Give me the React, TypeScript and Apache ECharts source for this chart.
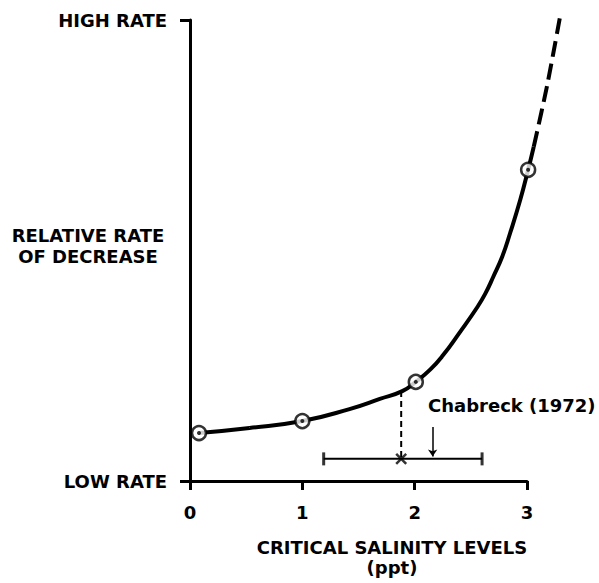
import React, { useEffect, useRef } from "react";
import * as echarts from "echarts";

// Salinity (ppt) vs relative rate of decrease (0 = low rate, 10 = high rate)
const xTicks = [0, 1, 2, 3];
const yTickLabels: Record<number, string> = { 0: "LOW RATE", 10: "HIGH RATE" };

const curveX = [0.08, 0.53, 1.0, 1.42, 1.69, 1.89, 2.01, 2.14, 2.25, 2.4, 2.56, 2.63, 2.7, 2.78, 2.85, 2.94, 3.01, 3.06];
const curveY = [1.04, 1.15, 1.3, 1.56, 1.78, 1.95, 2.15, 2.42, 2.72, 3.22, 3.78, 4.07, 4.43, 4.87, 5.38, 6.1, 6.75, 7.25];

const dashX = [3.06, 3.18, 3.3];
const dashY = [7.25, 8.59, 10.15];

const obsX = [0.08, 1.0, 2.01, 3.01];
const obsY = [1.04, 1.3, 2.15, 6.75];

// Chabreck (1972) range
const rangeLow = 1.19;
const rangeHigh = 2.6;
const rangeLevel = 0.48;
const critical = 1.88;
const criticalCurveY = 1.95;
const chabreckX = 2.16;
const arrowTop = 1.17;
const arrowBottom = 0.53;

const FONT = "DejaVu Sans";

// main axes frame (px)
const G_LEFT = 190;
const G_TOP = 20;
const G_W = 337;
const G_H = 461;
const X_MAX = 3;
const Y_MAX = 10;
// extended (hidden) frame with identical scale so the curve can run past the axes
const X_MAX2 = 3.4;
const Y_MAX2 = 10.4;
const W2 = (G_W * X_MAX2) / X_MAX;
const H2 = (G_H * Y_MAX2) / Y_MAX;
const TOP2 = G_TOP + G_H - H2;

export default function App() {
  const ref = useRef<HTMLDivElement>(null);
  useEffect(() => {
    if (!ref.current) return;
    const chart = echarts.init(ref.current, undefined, { renderer: "svg" });
    const zip = (xs: number[], ys: number[]) => xs.map((x, i) => [x, ys[i]]);
    const onG2 = { xAxisIndex: 1, yAxisIndex: 1 };
    chart.setOption({
      animation: false,
      backgroundColor: "#fff",
      grid: [
        { left: G_LEFT, top: G_TOP, width: G_W, height: G_H },
        { left: G_LEFT, top: TOP2, width: W2, height: H2 },
      ],
      xAxis: [
        {
          type: "value",
          gridIndex: 0,
          min: 0,
          max: X_MAX,
          interval: 1,
          splitLine: { show: false },
          axisLine: { show: true, lineStyle: { color: "#000", width: 3 } },
          axisTick: { show: true, length: 9, lineStyle: { color: "#000", width: 3 } },
          axisLabel: {
            margin: 22,
            color: "#000",
            fontFamily: FONT,
            fontWeight: "bold",
            fontSize: 18,
            formatter: (v: number) => (xTicks.includes(v) ? String(v) : ""),
          },
        },
        { type: "value", gridIndex: 1, min: 0, max: X_MAX2, show: false },
      ],
      yAxis: [
        {
          type: "value",
          gridIndex: 0,
          min: 0,
          max: Y_MAX,
          interval: 10,
          splitLine: { show: false },
          axisLine: { show: true, lineStyle: { color: "#000", width: 3 } },
          axisTick: { show: true, length: 10, lineStyle: { color: "#000", width: 3 } },
          axisLabel: {
            margin: 23,
            color: "#000",
            fontFamily: FONT,
            fontWeight: "bold",
            fontSize: 18,
            formatter: (v: number) => yTickLabels[v] ?? "",
          },
        },
        { type: "value", gridIndex: 1, min: 0, max: Y_MAX2, show: false },
      ],
      graphic: [
        {
          type: "text",
          x: 88,
          y: 246,
          style: {
            text: "RELATIVE RATE\nOF DECREASE",
            font: `bold 18px '${FONT}'`,
            lineHeight: 21,
            fill: "#000",
            align: "center",
            verticalAlign: "middle",
          },
        },
        {
          type: "text",
          x: 392,
          y: 557,
          style: {
            text: "CRITICAL SALINITY LEVELS\n(ppt)",
            font: `bold 18px '${FONT}'`,
            lineHeight: 20,
            fill: "#000",
            align: "center",
            verticalAlign: "middle",
          },
        },
        {
          type: "text",
          x: 428,
          y: 405,
          style: { text: "Chabreck (1972)", font: `bold 18px '${FONT}'`, fill: "#000", verticalAlign: "middle" },
        },
      ],
      series: [
        {
          type: "line",
          ...onG2,
          data: zip(curveX, curveY),
          smooth: 0.5,
          showSymbol: false,
          lineStyle: { color: "#000", width: 4 },
          z: 3,
        },
        {
          type: "line",
          ...onG2,
          data: zip(dashX, dashY),
          smooth: 0.3,
          showSymbol: false,
          lineStyle: { color: "#000", width: 4, type: [16, 7] },
          z: 3,
        },
        {
          type: "line",
          ...onG2,
          data: [
            [critical, criticalCurveY],
            [critical, rangeLevel],
          ],
          showSymbol: false,
          lineStyle: { color: "#000", width: 2, type: [6, 4] },
          z: 2,
        },
        {
          type: "line",
          ...onG2,
          data: [
            [rangeLow, rangeLevel],
            [rangeHigh, rangeLevel],
          ],
          showSymbol: false,
          lineStyle: { color: "#000", width: 2 },
          z: 2,
        },
        {
          type: "scatter",
          ...onG2,
          data: [
            [rangeLow, rangeLevel],
            [rangeHigh, rangeLevel],
          ],
          symbol: "rect",
          symbolSize: [3, 13],
          itemStyle: { color: "#000" },
          z: 4,
        },
        {
          type: "scatter",
          ...onG2,
          data: [[critical, rangeLevel]],
          symbol: "path://M0,0 L10,10 M10,0 L0,10",
          symbolSize: 10,
          itemStyle: { color: "none", borderColor: "#000", borderWidth: 2.5 },
          z: 4,
        },
        {
          type: "lines",
          coordinateSystem: "cartesian2d",
          ...onG2,
          data: [
            {
              coords: [
                [chabreckX, arrowTop],
                [chabreckX, arrowBottom],
              ],
            },
          ],
          symbol: ["none", "arrow"],
          symbolSize: 7,
          lineStyle: { color: "#000", width: 1.5, opacity: 1 },
          z: 4,
        },
        {
          type: "scatter",
          ...onG2,
          data: zip(obsX, obsY),
          symbol: "circle",
          symbolSize: 14,
          itemStyle: { color: "#fff", borderColor: "#000", borderWidth: 2.5 },
          z: 5,
        },
        {
          type: "scatter",
          ...onG2,
          data: zip(obsX, obsY),
          symbol: "circle",
          symbolSize: 4,
          itemStyle: { color: "#000" },
          z: 6,
        },
      ],
    });
    return () => chart.dispose();
  }, []);
  return (
    <div
      ref={ref}
      style={{ position: "absolute", left: 0, top: 0, width: 599, height: 583 }}
    />
  );
}
